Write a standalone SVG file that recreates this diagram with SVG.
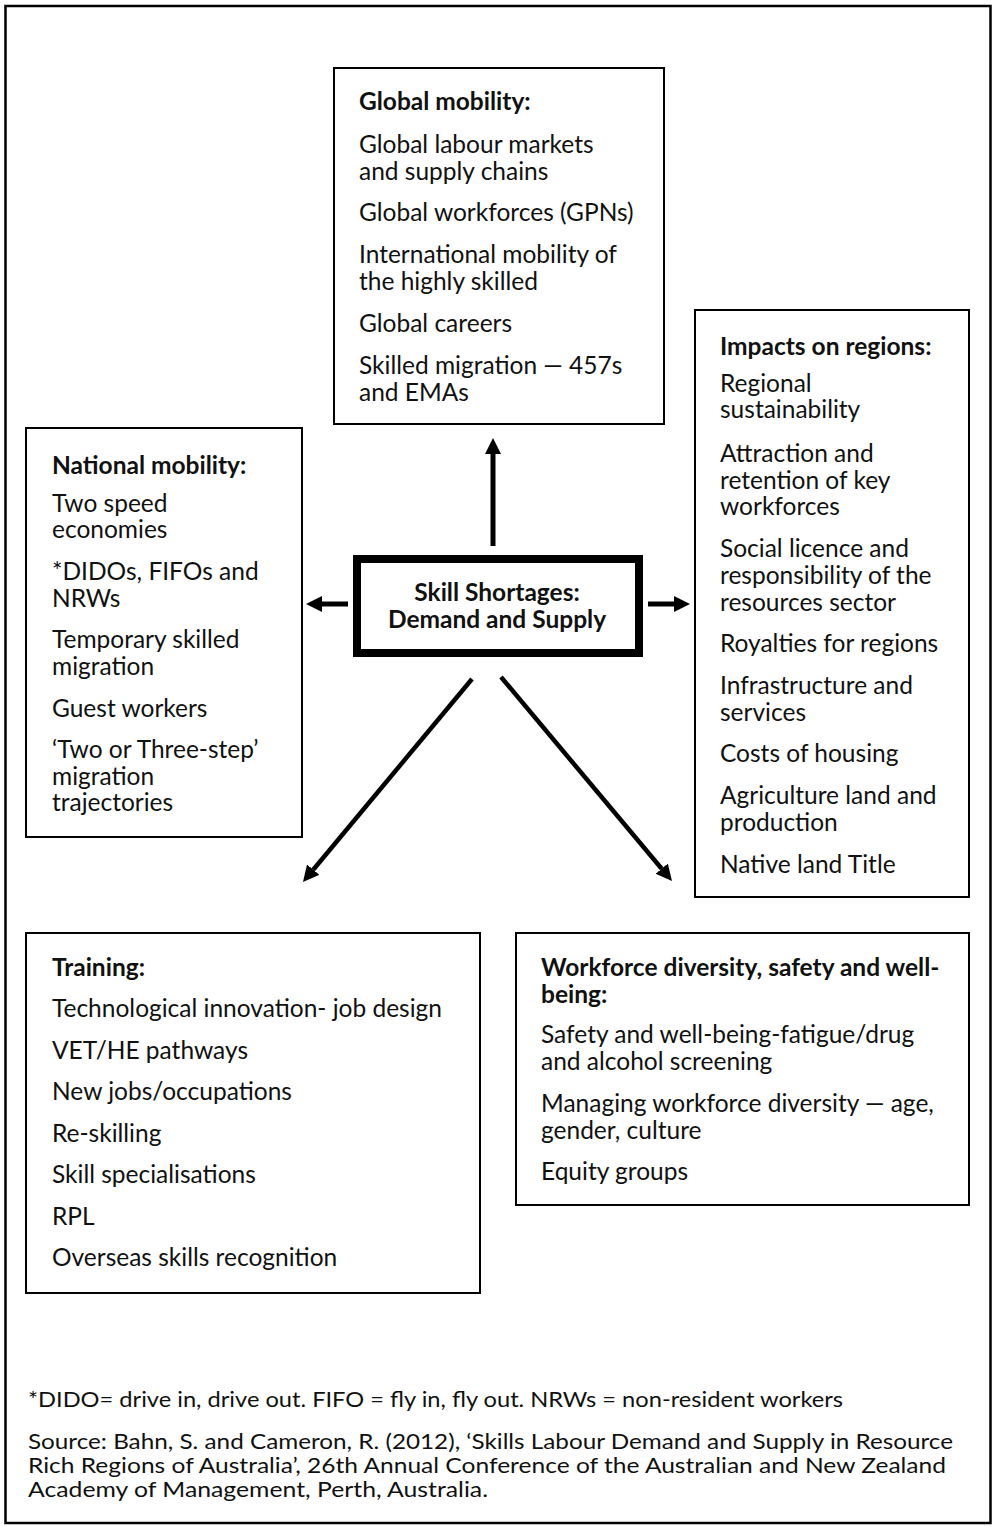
<svg xmlns="http://www.w3.org/2000/svg" width="994" height="1527" viewBox="0 0 994 1527">
<defs>
<style>
.bg{fill:#ffffff}
.frame{fill:none;stroke:#000;stroke-width:2.5}
.box{fill:#fff;stroke:#000;stroke-width:2}
.core{fill:#fff;stroke:#000;stroke-width:8}
text{font-family:Lato,"Open Sans","Liberation Sans",sans-serif;fill:#111;font-size:24.5px}
.t{font-weight:bold}
.c{font-weight:bold;text-anchor:middle;font-size:24.5px}
.f{font-size:21px}
.arr{stroke:#000;fill:none}
</style>
<marker id="ah" viewBox="0 0 16 16" refX="0" refY="8" markerWidth="16" markerHeight="17" markerUnits="userSpaceOnUse" orient="auto">
<path d="M0,0 L16,8 L0,16 z" fill="#000"/>
</marker>
</defs>
<rect class="bg" x="0" y="0" width="994" height="1527"/>
<rect class="frame" x="5.5" y="6" width="985" height="1517"/>

<g id="global">
<rect class="box" x="334" y="68" width="330" height="356"/>
<text class="t" x="359" y="110">Global mobility:</text>
<text x="359" y="153">Global labour markets</text>
<text x="359" y="180">and supply chains</text>
<text x="359" y="221">Global workforces (GPNs)</text>
<text x="359" y="263">International mobility of</text>
<text x="359" y="290">the highly skilled</text>
<text x="359" y="332">Global careers</text>
<text x="359" y="374">Skilled migration — 457s</text>
<text x="359" y="401">and EMAs</text>
</g>

<g id="national">
<rect class="box" x="26" y="428" width="276" height="409"/>
<text class="t" x="52" y="474">National mobility:</text>
<text x="52" y="512">Two speed</text>
<text x="52" y="538">economies</text>
<text x="52" y="580">*DIDOs, FIFOs and</text>
<text x="52" y="607">NRWs</text>
<text x="52" y="648">Temporary skilled</text>
<text x="52" y="675">migration</text>
<text x="52" y="717">Guest workers</text>
<text x="52" y="758">‘Two or Three-step’</text>
<text x="52" y="785">migration</text>
<text x="52" y="811">trajectories</text>
</g>

<g id="core">
<rect class="core" x="357" y="559" width="282" height="94"/>
<text class="c" x="497" y="601">Skill Shortages:</text>
<text class="c" x="497" y="628">Demand and Supply</text>
</g>

<g id="impacts">
<rect class="box" x="695" y="310" width="274" height="587"/>
<text class="t" x="720" y="355">Impacts on regions:</text>
<text x="720" y="392">Regional</text>
<text x="720" y="418">sustainability</text>
<text x="720" y="462">Attraction and</text>
<text x="720" y="489">retention of key</text>
<text x="720" y="515">workforces</text>
<text x="720" y="557">Social licence and</text>
<text x="720" y="584">responsibility of the</text>
<text x="720" y="611">resources sector</text>
<text x="720" y="652">Royalties for regions</text>
<text x="720" y="694">Infrastructure and</text>
<text x="720" y="721">services</text>
<text x="720" y="762">Costs of housing</text>
<text x="720" y="804">Agriculture land and</text>
<text x="720" y="831">production</text>
<text x="720" y="873">Native land Title</text>
</g>

<g id="training">
<rect class="box" x="26" y="933" width="454" height="360"/>
<text class="t" x="52" y="976">Training:</text>
<text x="52" y="1017">Technological innovation- job design</text>
<text x="52" y="1059">VET/HE pathways</text>
<text x="52" y="1100">New jobs/occupations</text>
<text x="52" y="1142">Re-skilling</text>
<text x="52" y="1183">Skill specialisations</text>
<text x="52" y="1225">RPL</text>
<text x="52" y="1266">Overseas skills recognition</text>
</g>

<g id="workforce">
<rect class="box" x="516" y="933" width="453" height="272"/>
<text class="t" x="541" y="976">Workforce diversity, safety and well-</text>
<text class="t" x="541" y="1003">being:</text>
<text x="541" y="1043">Safety and well-being-fatigue/drug</text>
<text x="541" y="1070">and alcohol screening</text>
<text x="541" y="1112">Managing workforce diversity — age,</text>
<text x="541" y="1139">gender, culture</text>
<text x="541" y="1180">Equity groups</text>
</g>

<g id="connectors">
<line class="arr" x1="493" y1="546" x2="493" y2="454" stroke-width="5" marker-end="url(#ah)"/>
<line class="arr" x1="348" y1="604" x2="322" y2="604" stroke-width="5" marker-end="url(#ah)"/>
<line class="arr" x1="648" y1="604" x2="674" y2="604" stroke-width="5" marker-end="url(#ah)"/>
<line class="arr" x1="472" y1="679" x2="313.2" y2="869.7" stroke-width="4.5" marker-end="url(#ah)"/>
<line class="arr" x1="501" y1="677" x2="661.7" y2="868.7" stroke-width="4.5" marker-end="url(#ah)"/>
</g>

<g id="footer">
<text class="f" x="28" y="1407" textLength="815" lengthAdjust="spacingAndGlyphs">*DIDO= drive in, drive out. FIFO = fly in, fly out. NRWs = non-resident workers</text>
<text class="f" x="28" y="1449" textLength="925" lengthAdjust="spacingAndGlyphs">Source: Bahn, S. and Cameron, R. (2012), ‘Skills Labour Demand and Supply in Resource</text>
<text class="f" x="28" y="1473" textLength="918" lengthAdjust="spacingAndGlyphs">Rich Regions of Australia’, 26th Annual Conference of the Australian and New Zealand</text>
<text class="f" x="28" y="1497" textLength="460" lengthAdjust="spacingAndGlyphs">Academy of Management, Perth, Australia.</text>
</g>
</svg>
